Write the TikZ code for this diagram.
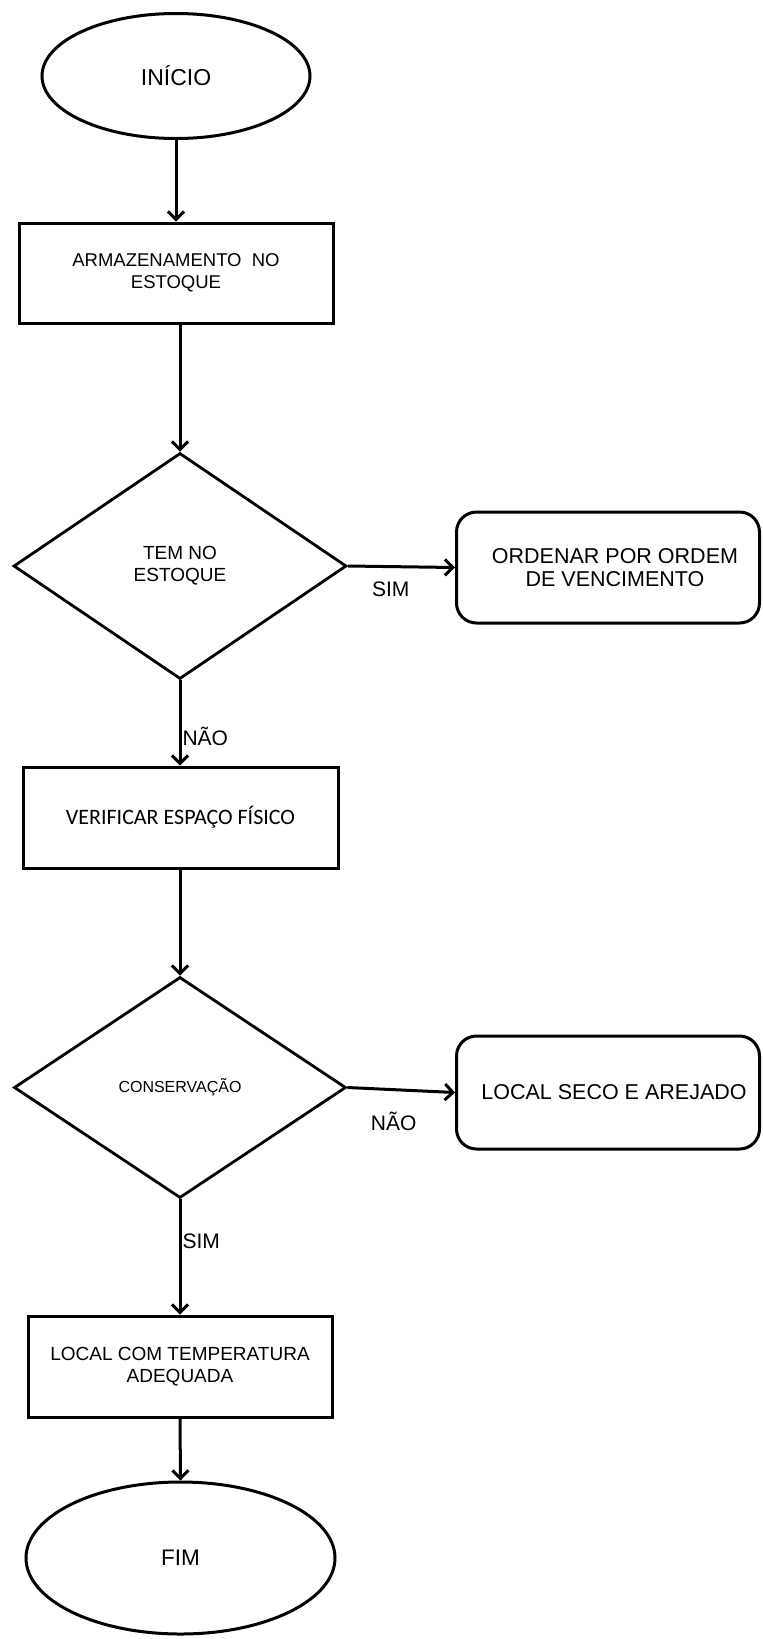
\documentclass[tikz,border=0pt]{standalone}
\usepackage{fontspec}
\setmainfont{Liberation Sans}
\newfontfamily\calib{Carlito}
\usetikzlibrary{shapes.geometric,arrows.meta}
\tikzset{
  base/.style={draw=black, line width=3pt, inner sep=0pt, align=center, text=black},
  term/.style={base, ellipse},
  procbox/.style={base, rectangle},
  decide/.style={base, diamond, line width=2.8pt},
  altbox/.style={base, rectangle, rounded corners=20pt},
  conn/.style={line width=3pt, -{Straight Barb[length=8pt,width=16pt,line width=3pt]}},
  lbl/.style={inner sep=0pt, font=\fontsize{21}{25}\selectfont}
}
\begin{document}
\begin{tikzpicture}[x=1pt,y=-1pt]
\useasboundingbox (0,0) rectangle (763,1639);
\node[term, minimum width=268pt, minimum height=125pt, font=\fontsize{23}{27}\selectfont] (start) at (176,76) {INÍCIO};
\node[procbox, minimum width=314pt, minimum height=100pt, font=\fontsize{18.5}{22}\selectfont] (arm) at (176,273) {ARMAZENAMENTO\ \ NO\\ESTOQUE};
\node[decide, minimum width=333pt, minimum height=226pt, font=\fontsize{19}{22}\selectfont] (d1) at (180,566) {TEM NO\\ESTOQUE};
\node[altbox, minimum width=303pt, minimum height=111pt, font=\fontsize{21.5}{23}\selectfont] (ord) at (608,567.5) {\hspace*{14pt}ORDENAR POR ORDEM\\\hspace*{14pt}DE VENCIMENTO};
\node[procbox, minimum width=315pt, minimum height=101pt, font=\calib\fontsize{22}{26}\selectfont] (ver) at (180.5,817.5) {VERIFICAR ESPAÇO FÍSICO};
\node[decide, minimum width=332pt, minimum height=221pt, font=\fontsize{16}{19}\selectfont] (d2) at (180,1087.5) {CONSERVAÇÃO};
\node[altbox, minimum width=303pt, minimum height=113pt, font=\fontsize{21.5}{25}\selectfont] (seco) at (608,1092.5) {\hspace*{12pt}LOCAL SECO E AREJADO};
\node[procbox, minimum width=304pt, minimum height=101pt, font=\fontsize{19}{22}\selectfont] (temp) at (180,1366.5) {LOCAL COM TEMPERATURA\\ADEQUADA};
\node[term, minimum width=309pt, minimum height=152pt, font=\fontsize{22.5}{27}\selectfont] (fim) at (180.5,1558) {FIM};

\draw[conn] (start.south) -- (arm.north);
\draw[conn] (d1.north |- arm.south) -- (d1.north);
\draw[conn] (d1.east) -- node[lbl, pos=0.4, yshift=-23pt] {SIM} (ord.west);
\draw[conn] (d1.south) -- node[lbl, pos=0.66, anchor=west, xshift=1pt] {NÃO} (d1.south |- ver.north);
\draw[conn] (d2.north |- ver.south) -- (d2.north);
\draw[conn] (d2.east) -- node[lbl, pos=0.43, yshift=-32pt] {NÃO} (seco.west);
\draw[conn] (d2.south) -- node[lbl, pos=0.36, anchor=west, xshift=1pt] {SIM} (d2.south |- temp.north);
\draw[conn] (temp.south) -- (fim.north);
\end{tikzpicture}
\end{document}
